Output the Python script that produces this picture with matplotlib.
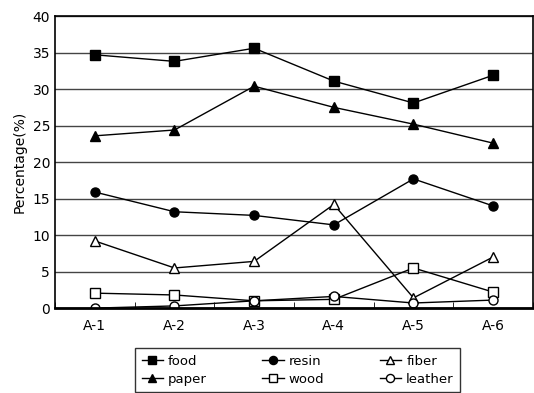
import matplotlib.pyplot as plt
import numpy as np

cats = ["A-1", "A-2", "A-3", "A-4", "A-5", "A-6"]
food = [34.7, 33.8, 35.6, 31.1, 28.1, 31.9]
paper = [23.6, 24.4, 30.4, 27.5, 25.2, 22.6]
resin = [15.9, 13.2, 12.7, 11.4, 17.7, 14.0]
fiber = [9.2, 5.5, 6.4, 14.2, 1.4, 7.0]
wood = [2.05, 1.8, 1.0, 1.2, 5.5, 2.2]
leather = [0.0, 0.3, 1.0, 1.6, 0.7, 1.1]

fig = plt.figure(figsize=(5.34, 3.93), dpi=100)
ax = fig.add_axes([0.103, 0.216, 0.895, 0.743])
x = np.arange(len(cats))

kw = dict(color="black", lw=1.0, ms=6.5, mec="black")
ax.plot(x, food, marker="s", mfc="black", label="food", **kw)
ax.plot(x, paper, marker="^", mfc="black", label="paper", **kw)
ax.plot(x, resin, marker="o", mfc="black", label="resin", **kw)
ax.plot(x, wood, marker="s", mfc="white", label="wood", **kw)
ax.plot(x, fiber, marker="^", mfc="white", label="fiber", **kw)
ax.plot(x, leather, marker="o", mfc="white", label="leather", **kw)

ax.set_xlim(-0.5, 5.5)
ax.set_ylim(0, 40)
ax.set_yticks(range(0, 41, 5))
ax.set_xticks(x)
ax.set_xticklabels(cats)
ax.set_xticks(np.arange(-0.5, 5.6, 1), minor=True)
ax.tick_params(axis="x", which="major", length=0, pad=8, labelsize=10)
ax.tick_params(axis="x", which="minor", length=4, direction="in")
ax.tick_params(axis="y", length=0, labelsize=10)
ax.yaxis.grid(True, color="#444444", lw=1.0)
ax.set_axisbelow(True)
for s in ax.spines.values():
    s.set_linewidth(1.2)
ax.spines["bottom"].set_linewidth(2)
ax.set_ylabel("Percentage(%)", fontsize=10)

ax.legend(ncol=3, loc="upper center", bbox_to_anchor=(0.508, -0.115),
          frameon=True, fancybox=False, edgecolor="black", fontsize=9.5,
          handlelength=1.6, handletextpad=0.4, columnspacing=4.2,
          borderpad=0.5, labelspacing=0.35, markerscale=0.9)

fig.savefig("out.png", dpi=100)
